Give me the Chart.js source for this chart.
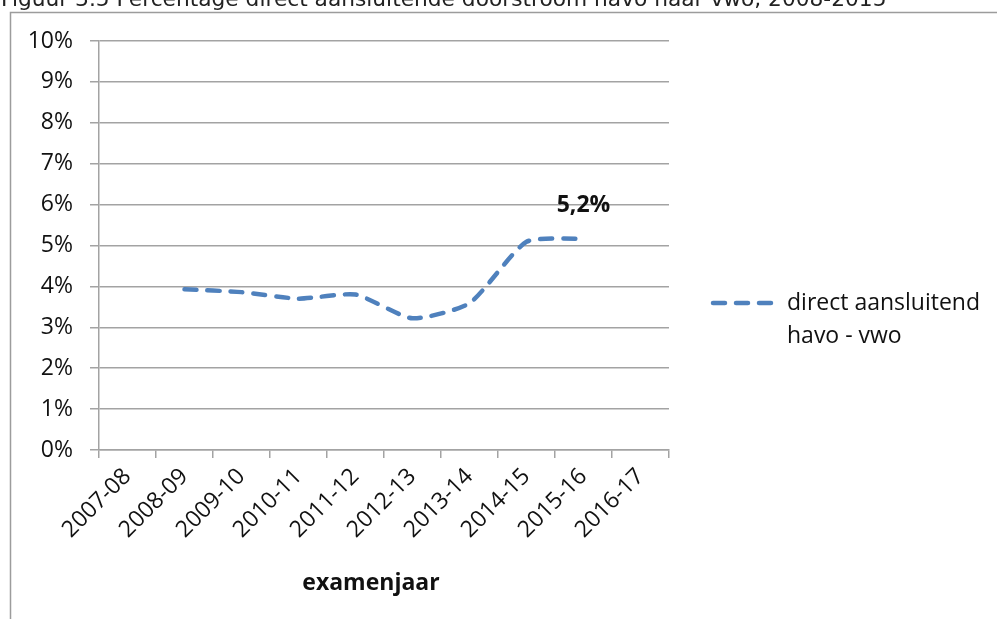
<!DOCTYPE html>
<html>
<head>
<meta charset="utf-8">
<script src="https://cdn.jsdelivr.net/npm/chart.js@4/dist/chart.umd.min.js"></script>
<style>
  html, body { margin: 0; padding: 0; background: #ffffff; }
  #wrap { width: 997px; height: 619px; position: relative; }
</style>
</head>
<body>
<div id="wrap"><canvas id="c" width="997" height="619"></canvas></div>
<script>
// ---- data ----
const figureTitle = 'Figuur 3.5 Percentage direct aansluitende doorstroom havo naar vwo, 2008-2015';
const categories = ['2007-08', '2008-09', '2009-10', '2010-11', '2011-12', '2012-13', '2013-14', '2014-15', '2015-16', '2016-17'];
const doorstroomHavoVwo = [null, 3.93, 3.86, 3.70, 3.80, 3.22, 3.59, 5.09, 5.17, null];
const seriesName = ['direct aansluitend', 'havo - vwo'];
const yTickValues = [0, 1, 2, 3, 4, 5, 6, 7, 8, 9, 10];
const xAxisTitle = 'examenjaar';
const labelledIndex = 8;

// ---- style ----
const BLUE = '#4f81bd';
const GRID = '#a3a3a3';
const FONT = "'Open Sans', sans-serif";
const TEXT = '#111111';

const framePlugin = {
  id: 'frame',
  beforeDraw(chart) {
    const ctx = chart.ctx;
    ctx.save();
    ctx.fillStyle = '#ffffff';
    ctx.fillRect(0, 0, chart.width, chart.height);
    ctx.strokeStyle = '#9c9c9c';
    ctx.lineWidth = 1.5;
    ctx.beginPath();
    ctx.moveTo(10.5, chart.height);
    ctx.lineTo(10.5, 12.5);
    ctx.lineTo(chart.width, 12.5);
    ctx.stroke();
    // cut-off figure caption above the frame
    ctx.fillStyle = '#222222';
    ctx.textBaseline = 'alphabetic';
    ctx.textAlign = 'left';
    ctx.font = "16px 'DejaVu Sans'";
    const w = ctx.measureText(figureTitle).width;
    const size = 16 * 886 / w;
    ctx.font = size.toFixed(2) + "px 'DejaVu Sans'";
    ctx.fillText(figureTitle, 1, 6);
    ctx.restore();
  }
};

const extrasPlugin = {
  id: 'extras',
  afterDraw(chart) {
    const ctx = chart.ctx;
    const meta = chart.getDatasetMeta(0);
    const pt = meta.data[labelledIndex];
    const v = doorstroomHavoVwo[labelledIndex];
    ctx.save();
    // data label
    ctx.fillStyle = TEXT;
    ctx.font = "bold 23px " + FONT;
    ctx.textAlign = 'center';
    ctx.textBaseline = 'middle';
    ctx.fillText(v.toFixed(1).replace('.', ',') + '%', pt.x, pt.y - 33);
    // axis title
    const xs = chart.scales.x;
    ctx.fillText(xAxisTitle, (xs.left + xs.right) / 2 - 13, 583);
    // legend
    const lx = 711, ly = 303;
    ctx.strokeStyle = BLUE;
    ctx.lineWidth = 4.5;
    ctx.lineCap = 'round';
    ctx.setLineDash([12, 11]);
    ctx.beginPath();
    ctx.moveTo(lx + 2, ly);
    ctx.lineTo(lx + 62, ly);
    ctx.stroke();
    ctx.setLineDash([]);
    ctx.font = "23px " + FONT;
    ctx.textAlign = 'left';
    ctx.fillText(seriesName[0], 787, 303);
    ctx.fillText(seriesName[1], 787, 336);
    ctx.restore();
  }
};

new Chart(document.getElementById('c'), {
  type: 'line',
  data: {
    labels: categories,
    datasets: [{
      label: seriesName.join(' '),
      data: doorstroomHavoVwo,
      borderColor: BLUE,
      backgroundColor: BLUE,
      borderWidth: 4.5,
      borderDash: [12, 11],
      borderCapStyle: 'round',
      borderJoinStyle: 'round',
      pointRadius: 0,
      pointHoverRadius: 0,
      tension: 0.2,
      fill: false
    }]
  },
  options: {
    responsive: false,
    animation: false,
    events: [],
    layout: { padding: { left: 0, top: 41, right: 328, bottom: 0 } },
    plugins: {
      legend: { display: false },
      title: { display: false },
      tooltip: { enabled: false }
    },
    scales: {
      x: {
        type: 'category',
        offset: true,
        grid: {
          offset: true,
          drawOnChartArea: false,
          drawTicks: true,
          tickLength: 8,
          color: GRID,
          lineWidth: 1.5
        },
        border: { display: true, color: GRID, width: 1.5 },
        ticks: {
          autoSkip: false,
          maxRotation: 45,
          minRotation: 45,
          padding: 5,
          color: TEXT,
          font: { family: FONT, size: 23 }
        },
        afterFit(scale) { scale.height = 169; }
      },
      y: {
        min: 0,
        max: 10,
        afterBuildTicks(scale) { scale.ticks = yTickValues.map(v => ({ value: v })); },
        grid: {
          color: GRID,
          lineWidth: 1.5,
          drawTicks: true,
          tickLength: 9
        },
        border: { display: true, color: GRID, width: 1.5 },
        ticks: {
          padding: 17,
          color: TEXT,
          font: { family: FONT, size: 23 },
          callback: v => v + '%'
        },
        afterFit(scale) { scale.width = 99; }
      }
    }
  },
  plugins: [framePlugin, extrasPlugin]
});
</script>
</body>
</html>
